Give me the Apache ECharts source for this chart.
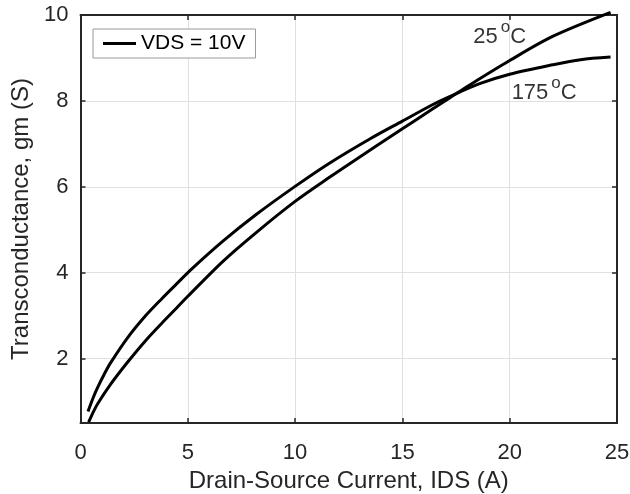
<!DOCTYPE html>
<html>
<head>
<meta charset="utf-8">
<script src="https://cdn.jsdelivr.net/npm/echarts@6/dist/echarts.min.js"></script>
<style>html,body{margin:0;padding:0;background:#fff}#c{width:630px;height:494px}</style>
</head>
<body>
<div id="c"></div>
<script>
// Data
const ids25 = [0.38, 0.6, 0.8, 1.4, 2.2, 3.0, 3.8, 4.5, 5.0, 6.65, 8.2, 10, 11.6, 12.7, 15, 16.4, 17.2, 18.1, 20, 22, 24.7];
const gm25  = [0.52, 0.76, 0.95, 1.40, 1.92, 2.40, 2.83, 3.19, 3.45, 4.27, 4.94, 5.66, 6.22, 6.59, 7.35, 7.81, 8.07, 8.36, 8.94, 9.50, 10.06];
const ids175 = [0.35, 0.6, 0.8, 1.1, 1.4, 2.2, 3.0, 3.8, 4.5, 5.1, 6.65, 8.2, 10, 11.6, 13.5, 15, 16.4, 17.2, 18.6, 20, 22, 23.3, 24.7];
const gm175  = [0.77, 1.10, 1.33, 1.63, 1.90, 2.49, 2.98, 3.40, 3.75, 4.05, 4.74, 5.36, 6.01, 6.55, 7.12, 7.53, 7.91, 8.10, 8.40, 8.62, 8.84, 8.96, 9.02];
const xTicks = [0, 5, 10, 15, 20, 25];
const legendLabel = 'VDS = 10V';
const annotations = [
  {temp: '25', x: 18.30, y: 9.49},
  {temp: '175', x: 20.09, y: 8.19}
];

const FONT = 'Liberation Sans, Arial, Helvetica, sans-serif';
const TXT = '#262626';
const FRAME = '#262626';
const GRID = '#e0e0e0';

function pairs(xs, ys) { return xs.map((x, i) => [x, ys[i]]); }

const chart = echarts.init(document.getElementById('c'), null, {renderer: 'canvas'});
const axisCommon = {
  axisLine: {show: true, onZero: false, lineStyle: {color: FRAME, width: 2}},
  axisTick: {show: true, inside: true, length: 5, lineStyle: {color: FRAME, width: 1.5}},
};
const lineCommon = {
  type: 'line', smooth: 0.3, symbol: 'none',
  lineStyle: {color: '#000', width: 3}, itemStyle: {color: '#000'}, clip: false, silent: true
};
chart.setOption({
  animation: false,
  backgroundColor: '#fff',
  textStyle: {fontFamily: FONT},
  grid: {left: 80.5, right: 13, top: 15, bottom: 71, containLabel: false, outerBoundsMode: 'none'},
  legend: {
    data: [legendLabel],
    left: 93, top: 29,
    icon: 'rect',
    itemWidth: 33, itemHeight: 3, itemGap: 0,
    padding: [3, 10, 3, 10],
    borderColor: '#9a9a9a', borderWidth: 1, backgroundColor: '#fff',
    textStyle: {fontFamily: FONT, fontSize: 21, color: '#000', lineHeight: 23},
    selectedMode: false
  },
  xAxis: [
    Object.assign({}, axisCommon, {
      type: 'value', min: xTicks[0], max: xTicks[xTicks.length - 1], interval: 5, position: 'bottom',
      name: 'Drain-Source Current, IDS (A)', nameLocation: 'middle', nameGap: 38,
      nameTextStyle: {fontFamily: FONT, fontSize: 24, color: TXT},
      axisLabel: {fontFamily: FONT, fontSize: 22, color: TXT, margin: 19},
      splitLine: {show: true, lineStyle: {color: GRID, width: 1}}
    }),
    Object.assign({}, axisCommon, {
      type: 'value', min: xTicks[0], max: xTicks[xTicks.length - 1], interval: 5, position: 'top',
      axisLabel: {show: false}, splitLine: {show: false}
    })
  ],
  yAxis: [
    Object.assign({}, axisCommon, {
      type: 'value', min: 0.5, max: 10, splitNumber: 5, position: 'left',
      name: 'Transconductance, gm (S)', nameLocation: 'middle', nameGap: 46,
      nameTextStyle: {fontFamily: FONT, fontSize: 24, color: TXT},
      axisLabel: {fontFamily: FONT, fontSize: 22, color: TXT, margin: 12, showMinLabel: false},
      splitLine: {show: true, lineStyle: {color: GRID, width: 1}}
    }),
    Object.assign({}, axisCommon, {
      type: 'value', min: 0.5, max: 10, splitNumber: 5, position: 'right',
      axisLabel: {show: false}, splitLine: {show: false}
    })
  ],
  series: [
    Object.assign({name: '25°C', data: pairs(ids25, gm25)}, lineCommon),
    Object.assign({name: '175°C', data: pairs(ids175, gm175)}, lineCommon),
    {name: legendLabel, type: 'line', data: [], symbol: 'none',
     lineStyle: {color: '#000', width: 3}, itemStyle: {color: '#000'}},
    {name: 'labels', type: 'scatter', symbolSize: 0, silent: true,
     data: annotations.map(a => ({value: [a.x, a.y], temp: a.temp})),
     label: {
       show: true, position: [0, 0], align: 'left', verticalAlign: 'middle',
       formatter: p => '{a|' + p.data.temp + '}{b|o}{a|C}',
       rich: {
         a: {fontFamily: FONT, fontSize: 22, color: '#000'},
         b: {fontFamily: FONT, fontSize: 17, color: '#000', padding: [0, 0, 19, 3]}
       }
     }}
  ]
});
</script>
</body>
</html>
